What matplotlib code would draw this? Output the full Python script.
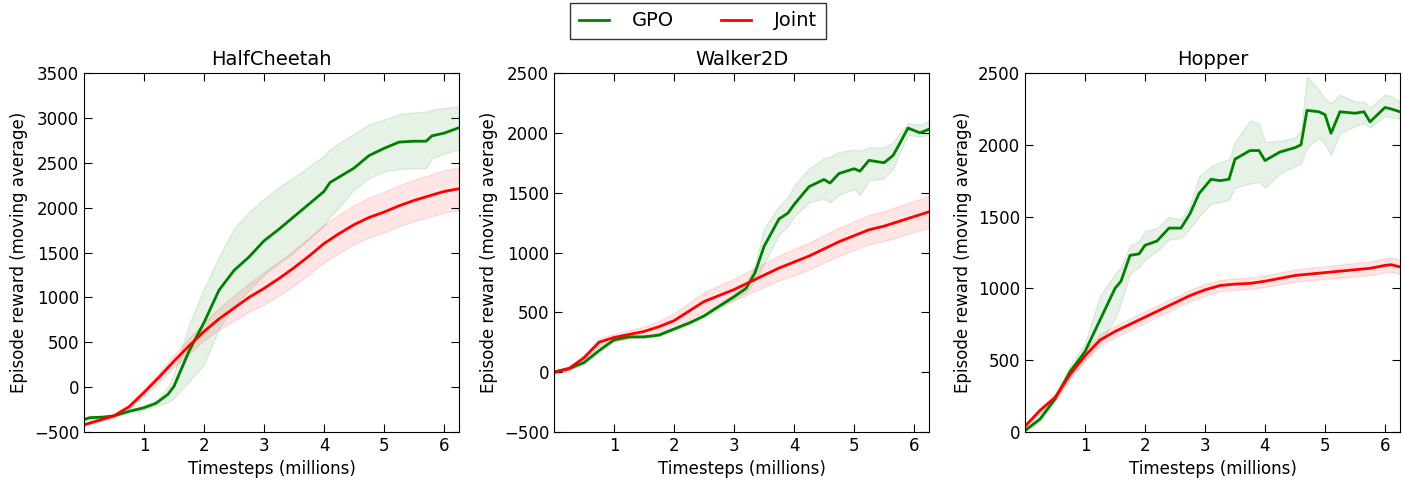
import numpy as np
import matplotlib
matplotlib.use("Agg")
import matplotlib.pyplot as plt

titles = ["HalfCheetah", "Walker2D", "Hopper"]
ylims = [(-500, 3500), (-500, 2500), (0, 2500)]

# ---------------- HalfCheetah ----------------
hc_gpo_x = [0, 0.1, 0.3, 0.5, 0.75, 1.0, 1.2, 1.4, 1.5, 1.75, 2.0, 2.25, 2.5, 2.75, 3.0, 3.25, 3.5, 3.75,
            4.0, 4.1, 4.25, 4.5, 4.75, 5.0, 5.25, 5.5, 5.7, 5.8, 6.0, 6.25]
hc_gpo_y = [-360, -340, -335, -320, -270, -230, -180, -80, 10, 400, 720, 1080, 1300, 1450, 1630, 1760, 1900, 2040,
            2180, 2280, 2340, 2440, 2580, 2660, 2730, 2740, 2740, 2800, 2830, 2890]
hc_gpo_lo = [-380, -360, -345, -330, -285, -250, -210, -170, -120, 60, 250, 650, 900, 1080, 1250, 1380, 1500, 1650,
             1800, 1900, 2000, 2200, 2330, 2400, 2430, 2440, 2440, 2550, 2600, 2650]
hc_gpo_hi = [-340, -320, -320, -310, -255, -200, -150, 0, 150, 700, 1100, 1450, 1770, 1950, 2100, 2230, 2340, 2460,
             2580, 2650, 2720, 2820, 2930, 2980, 3040, 3060, 3070, 3090, 3110, 3130]

hc_joint_x = [0, 0.25, 0.5, 0.75, 1.0, 1.25, 1.5, 1.75, 2.0, 2.25, 2.5, 2.75, 3.0, 3.25, 3.5, 3.75, 4.0,
              4.25, 4.5, 4.75, 5.0, 5.25, 5.5, 5.75, 6.0, 6.25]
hc_joint_y = [-420, -370, -320, -220, -60, 110, 290, 460, 620, 760, 880, 1000, 1100, 1210, 1330, 1460, 1600,
              1710, 1810, 1890, 1950, 2020, 2080, 2130, 2180, 2210]
hc_joint_w = [10, 15, 20, 30, 40, 55, 70, 85, 100, 120, 140, 160, 180, 190, 200, 205, 210,
              215, 220, 222, 225, 228, 230, 233, 236, 240]

# ---------------- Walker2D ----------------
wk_gpo_x = [0, 0.25, 0.5, 0.75, 1.0, 1.25, 1.5, 1.75, 2.0, 2.25, 2.5, 2.75, 3.0, 3.2, 3.35, 3.5, 3.75, 3.9,
            4.0, 4.25, 4.5, 4.6, 4.75, 5.0, 5.1, 5.25, 5.5, 5.65, 5.75, 5.9, 6.1, 6.25]
wk_gpo_y = [0, 30, 80, 180, 270, 295, 295, 310, 360, 410, 470, 550, 630, 700, 830, 1050, 1280, 1330,
            1400, 1550, 1610, 1580, 1660, 1700, 1680, 1770, 1750, 1810, 1900, 2040, 2000, 2030]
wk_gpo_lo = [-10, 15, 65, 165, 255, 285, 285, 300, 345, 395, 455, 530, 605, 670, 760, 900, 1150, 1220,
             1300, 1420, 1450, 1420, 1480, 1530, 1480, 1600, 1620, 1700, 1820, 1980, 1970, 1980]
wk_gpo_hi = [10, 45, 95, 195, 285, 305, 305, 320, 375, 425, 485, 570, 655, 730, 900, 1200, 1390, 1460,
             1560, 1700, 1790, 1800, 1840, 1860, 1850, 1880, 1880, 1920, 1990, 2080, 2070, 2100]

wk_joint_x = [0, 0.25, 0.5, 0.75, 1.0, 1.25, 1.5, 1.75, 2.0, 2.25, 2.5, 2.75, 3.0, 3.25, 3.5, 3.75, 4.0,
              4.25, 4.5, 4.75, 5.0, 5.25, 5.5, 5.75, 6.0, 6.25]
wk_joint_y = [0, 30, 120, 250, 290, 315, 340, 380, 430, 510, 590, 640, 690, 750, 810, 870, 920,
              970, 1030, 1090, 1140, 1190, 1220, 1260, 1300, 1340]
wk_joint_w = [15, 20, 25, 30, 30, 35, 40, 50, 60, 70, 80, 85, 90, 95, 100, 105, 110,
              112, 115, 118, 120, 123, 125, 128, 130, 135]

# ---------------- Hopper ----------------
hp_gpo_x = [0, 0.25, 0.5, 0.75, 1.0, 1.25, 1.5, 1.6, 1.75, 1.9, 2.0, 2.2, 2.4, 2.6, 2.75, 2.9, 3.1, 3.25,
            3.4, 3.5, 3.75, 3.9, 4.0, 4.25, 4.5, 4.6, 4.7, 4.9, 5.0, 5.1, 5.25, 5.5, 5.65, 5.75, 6.0, 6.1, 6.25]
hp_gpo_y = [10, 90, 230, 420, 560, 780, 1000, 1050, 1230, 1240, 1300, 1330, 1420, 1420, 1520, 1660, 1760, 1750,
            1760, 1900, 1960, 1960, 1890, 1950, 1980, 2000, 2240, 2230, 2210, 2080, 2230, 2220, 2230, 2160, 2260, 2250, 2230]
hp_gpo_lo = [5, 70, 215, 380, 500, 620, 790, 900, 1100, 1150, 1200, 1260, 1340, 1350, 1420, 1500, 1590, 1600,
             1620, 1700, 1730, 1740, 1700, 1800, 1850, 1870, 1980, 2050, 2000, 1930, 2080, 2130, 2150, 2120, 2200, 2190, 2180]
hp_gpo_hi = [15, 110, 245, 460, 620, 950, 1100, 1150, 1300, 1330, 1400, 1420, 1500, 1480, 1580, 1780, 1850, 1880,
             1900, 2020, 2170, 2150, 2020, 2030, 2050, 2100, 2480, 2380, 2320, 2290, 2350, 2300, 2300, 2260, 2350, 2340, 2300]

hp_joint_x = [0, 0.25, 0.5, 0.75, 1.0, 1.25, 1.5, 1.75, 2.0, 2.25, 2.5, 2.75, 3.0, 3.25, 3.5, 3.75, 4.0,
              4.25, 4.5, 4.75, 5.0, 5.25, 5.5, 5.75, 6.0, 6.1, 6.25]
hp_joint_y = [40, 150, 240, 400, 530, 640, 700, 750, 800, 850, 900, 950, 990, 1020, 1030, 1035, 1050,
              1070, 1090, 1100, 1110, 1120, 1130, 1140, 1160, 1165, 1150]
hp_joint_w = [10, 20, 25, 30, 35, 40, 40, 40, 40, 40, 40, 40, 40, 40, 40, 40, 40,
              42, 42, 44, 45, 46, 47, 48, 50, 50, 50]

gpo_data = [(hc_gpo_x, hc_gpo_y, hc_gpo_lo, hc_gpo_hi),
            (wk_gpo_x, wk_gpo_y, wk_gpo_lo, wk_gpo_hi),
            (hp_gpo_x, hp_gpo_y, hp_gpo_lo, hp_gpo_hi)]
joint_data = [(hc_joint_x, hc_joint_y, hc_joint_w),
              (wk_joint_x, wk_joint_y, wk_joint_w),
              (hp_joint_x, hp_joint_y, hp_joint_w)]

plt.rcParams['font.family'] = ['DejaVu Sans']
fig = plt.figure(figsize=(14.04, 4.87), dpi=100)
lefts = [84 / 1404, 554 / 1404, 1025 / 1404]
w = 375 / 1404
b = 1 - 432 / 487
h = 359 / 487

green = (0, 0.5, 0)
red = (1, 0, 0)
handles = None
for i in range(3):
    ax = fig.add_axes([lefts[i], b, w, h])
    gx, gy, glo, ghi = gpo_data[i]
    jx, jy, jw = joint_data[i]
    jx = np.array(jx); jy = np.array(jy); jw = np.array(jw)
    ax.fill_between(gx, glo, ghi, color=green, alpha=0.1)
    ax.fill_between(jx, jy - jw, jy + jw, color=red, alpha=0.1)
    l1, = ax.plot(gx, gy, color=green, lw=2, label="GPO")
    l2, = ax.plot(jx, jy, color=red, lw=2, label="Joint")
    handles = [l1, l2]
    ax.set_xlim(0, 6.25)
    ax.set_ylim(*ylims[i])
    ax.set_xticks([1, 2, 3, 4, 5, 6])
    ax.set_yticks(np.arange(ylims[i][0], ylims[i][1] + 1, 500))
    ax.tick_params(direction='in', top=True, right=True, labelsize=12, length=6)
    ax.set_title(titles[i], fontsize=14)
    ax.set_xlabel("Timesteps (millions)", fontsize=12)
    ax.set_ylabel("Episode reward (moving average)", fontsize=12)

fig.legend(handles, ["GPO", "Joint"], loc='center', bbox_to_anchor=(698 / 1404, 1 - 21 / 487),
           ncol=2, fontsize=14, frameon=True, fancybox=False, edgecolor='black',
           handlelength=1.55, columnspacing=2.4, borderpad=0.45, handletextpad=1.2)
fig.savefig("out.png", dpi=100)
